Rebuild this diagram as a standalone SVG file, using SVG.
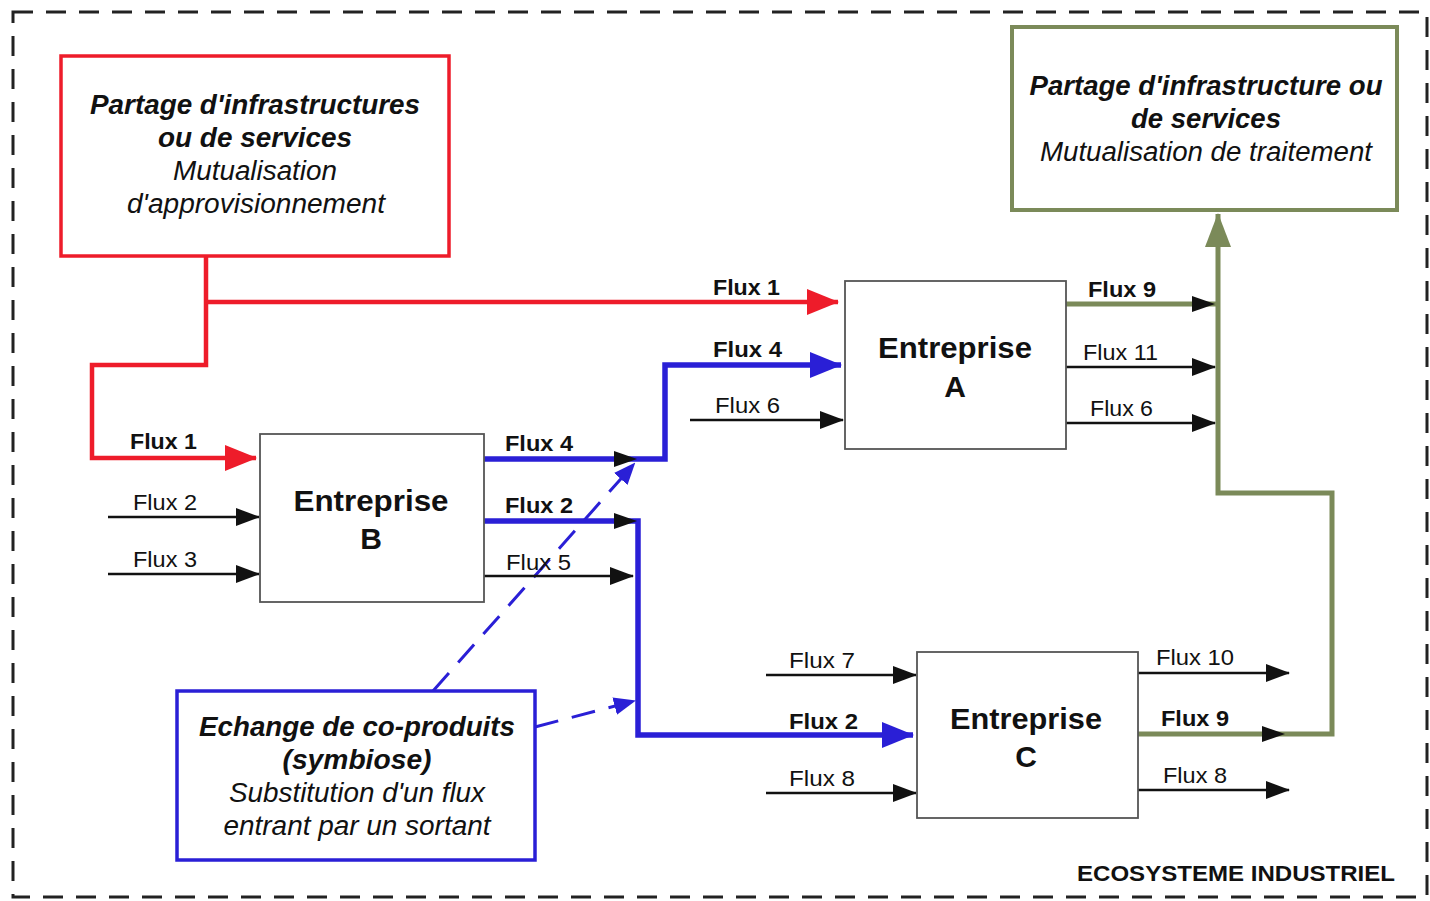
<svg xmlns="http://www.w3.org/2000/svg" width="1430" height="901" viewBox="0 0 1430 901">
<style>
text{font-family:"Liberation Sans",Arial,sans-serif;fill:#111}
.f{font-size:22px}
.fb{font-size:22px;font-weight:bold}
.ent{font-size:30px;font-weight:bold;text-anchor:middle}
.bi{font-size:27px;font-weight:bold;font-style:italic;text-anchor:middle}
.it{font-size:27px;font-style:italic;text-anchor:middle}
.box{fill:#fff;stroke:#555;stroke-width:1.8}
.blk{fill:none;stroke:#111;stroke-width:2.5;marker-end:url(#aK)}
.red{fill:none;stroke:#ee1c2a;stroke-width:4.5}
.blu{fill:none;stroke:#2a1fd6;stroke-width:5.5}
.grn{fill:none;stroke:#7b8a59;stroke-width:5}
.dash{fill:none;stroke:#2a1fd6;stroke-width:3;stroke-dasharray:24 14;marker-end:url(#aD)}
.hk{fill:#111}
</style>
<defs>
<marker id="aK" markerUnits="userSpaceOnUse" markerWidth="24" markerHeight="18" refX="23" refY="9" orient="auto"><path d="M0,0 L24,9 L0,18 z" fill="#111"/></marker>
<marker id="aR" markerUnits="userSpaceOnUse" markerWidth="32" markerHeight="26" refX="31" refY="13" orient="auto"><path d="M0,0 L32,13 L0,26 z" fill="#ee1c2a"/></marker>
<marker id="aB" markerUnits="userSpaceOnUse" markerWidth="32" markerHeight="26" refX="31" refY="13" orient="auto"><path d="M0,0 L32,13 L0,26 z" fill="#2a1fd6"/></marker>
<marker id="aG" markerUnits="userSpaceOnUse" markerWidth="34" markerHeight="26" refX="33" refY="13" orient="auto"><path d="M0,0 L34,13 L0,26 z" fill="#7b8a59"/></marker>
<marker id="aD" markerUnits="userSpaceOnUse" markerWidth="22" markerHeight="18" refX="20" refY="9" orient="auto"><path d="M0,0 L22,9 L0,18 z" fill="#2a1fd6"/></marker>
</defs>
<rect id="ecosysteme" x="13" y="12" width="1414" height="885" fill="none" stroke="#222" stroke-width="3" stroke-dasharray="20 13"/>

<g id="connectors">
<path class="red" d="M206,256 V365 H92 V458 H256" marker-end="url(#aR)"/>
<path class="red" d="M206,302 H838" marker-end="url(#aR)"/>
<path class="blu" d="M484,459 H665 V365 H841" marker-end="url(#aB)"/>
<path class="blu" d="M484,521 H638 V735 H913" marker-end="url(#aB)"/>
<path class="grn" d="M1138,734 H1332 V493 H1218 V214" marker-end="url(#aG)"/>
<path class="grn" d="M1066,304 H1218"/>
<path class="dash" d="M433,691 L634,464"/>
<path class="dash" d="M535,727 L634,701"/>
<path class="blk" d="M690,420 H843"/>
<path class="blk" d="M108,517 H259"/>
<path class="blk" d="M108,574 H259"/>
<path class="blk" d="M484,576 H633"/>
<path class="blk" d="M1066,367 H1215"/>
<path class="blk" d="M1066,423 H1215"/>
<path class="blk" d="M766,675 H916"/>
<path class="blk" d="M766,793 H916"/>
<path class="blk" d="M1138,673 H1289"/>
<path class="blk" d="M1138,790 H1289"/>
<path class="hk" d="M614,451 L637,459 L614,467 z"/>
<path class="hk" d="M614,513 L637,521 L614,529 z"/>
<path class="hk" d="M1192,296 L1215,304 L1192,312 z"/>
<path class="hk" d="M1262,726 L1285,734 L1262,742 z"/>
<text class="fb" x="713" y="295" textLength="67" lengthAdjust="spacingAndGlyphs">Flux 1</text>
<text class="fb" x="130" y="449" textLength="67" lengthAdjust="spacingAndGlyphs">Flux 1</text>
<text class="fb" x="713" y="357" textLength="69" lengthAdjust="spacingAndGlyphs">Flux 4</text>
<text class="fb" x="505" y="451" textLength="68" lengthAdjust="spacingAndGlyphs">Flux 4</text>
<text class="fb" x="505" y="513" textLength="68" lengthAdjust="spacingAndGlyphs">Flux 2</text>
<text class="fb" x="789" y="729" textLength="69" lengthAdjust="spacingAndGlyphs">Flux 2</text>
<text class="fb" x="1088" y="297" textLength="68" lengthAdjust="spacingAndGlyphs">Flux 9</text>
<text class="fb" x="1161" y="726" textLength="68" lengthAdjust="spacingAndGlyphs">Flux 9</text>
<text class="f" x="715" y="413" textLength="65" lengthAdjust="spacingAndGlyphs">Flux 6</text>
<text class="f" x="133" y="510" textLength="64" lengthAdjust="spacingAndGlyphs">Flux 2</text>
<text class="f" x="133" y="567" textLength="64" lengthAdjust="spacingAndGlyphs">Flux 3</text>
<text class="f" x="506" y="570" textLength="65" lengthAdjust="spacingAndGlyphs">Flux 5</text>
<text class="f" x="1083" y="360" textLength="75" lengthAdjust="spacingAndGlyphs">Flux 11</text>
<text class="f" x="1090" y="416" textLength="63" lengthAdjust="spacingAndGlyphs">Flux 6</text>
<text class="f" x="789" y="668" textLength="66" lengthAdjust="spacingAndGlyphs">Flux 7</text>
<text class="f" x="789" y="786" textLength="66" lengthAdjust="spacingAndGlyphs">Flux 8</text>
<text class="f" x="1156" y="665" textLength="78" lengthAdjust="spacingAndGlyphs">Flux 10</text>
<text class="f" x="1163" y="783" textLength="64" lengthAdjust="spacingAndGlyphs">Flux 8</text>
</g>

<g id="partage-approvisionnement">
<rect x="61" y="56" width="388" height="200" fill="#fff" stroke="#ee1c2a" stroke-width="3.5"/>
<text class="bi" x="255" y="114" textLength="330" lengthAdjust="spacingAndGlyphs">Partage d'infrastructures</text>
<text class="bi" x="255" y="147" textLength="194" lengthAdjust="spacingAndGlyphs">ou de services</text>
<text class="it" x="255" y="180" textLength="164" lengthAdjust="spacingAndGlyphs">Mutualisation</text>
<text class="it" x="256" y="213" textLength="258" lengthAdjust="spacingAndGlyphs">d'approvisionnement</text>
</g>

<g id="partage-traitement">
<rect x="1012" y="27" width="385" height="183" fill="#fff" stroke="#7b8a59" stroke-width="4"/>
<text class="bi" x="1206" y="95" textLength="353" lengthAdjust="spacingAndGlyphs">Partage d'infrastructure ou</text>
<text class="bi" x="1206" y="128" textLength="150" lengthAdjust="spacingAndGlyphs">de services</text>
<text class="it" x="1206" y="161" textLength="332" lengthAdjust="spacingAndGlyphs">Mutualisation de traitement</text>
</g>

<g id="echange-coproduits">
<rect x="177" y="691" width="358" height="169" fill="#fff" stroke="#2a1fd6" stroke-width="3.5"/>
<text class="bi" x="357" y="736" textLength="316" lengthAdjust="spacingAndGlyphs">Echange de co-produits</text>
<text class="bi" x="357" y="769" textLength="149" lengthAdjust="spacingAndGlyphs">(symbiose)</text>
<text class="it" x="357" y="802" textLength="256" lengthAdjust="spacingAndGlyphs">Substitution d'un flux</text>
<text class="it" x="357" y="835" textLength="267" lengthAdjust="spacingAndGlyphs">entrant par un sortant</text>
</g>

<g id="entreprise-a">
<rect class="box" x="845" y="281" width="221" height="168"/>
<text class="ent" x="955" y="358" textLength="154" lengthAdjust="spacingAndGlyphs">Entreprise</text>
<text class="ent" x="955" y="397">A</text>
</g>

<g id="entreprise-b">
<rect class="box" x="260" y="434" width="224" height="168"/>
<text class="ent" x="371" y="511" textLength="155" lengthAdjust="spacingAndGlyphs">Entreprise</text>
<text class="ent" x="371" y="549">B</text>
</g>

<g id="entreprise-c">
<rect class="box" x="917" y="652" width="221" height="166"/>
<text class="ent" x="1026" y="729" textLength="152" lengthAdjust="spacingAndGlyphs">Entreprise</text>
<text class="ent" x="1026" y="767">C</text>
</g>

<text x="1077" y="881" font-size="22" font-weight="bold" textLength="318" lengthAdjust="spacingAndGlyphs">ECOSYSTEME INDUSTRIEL</text>
</svg>
